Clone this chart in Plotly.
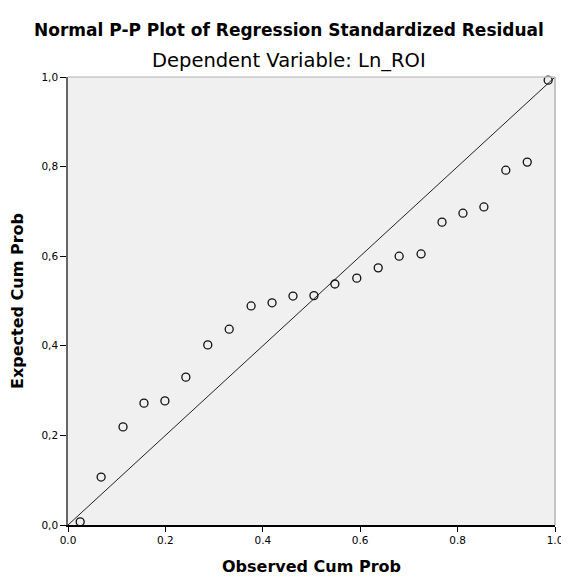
import plotly.graph_objects as go

observed = [0.025, 0.068, 0.113, 0.156, 0.199, 0.242, 0.287, 0.331, 0.376, 0.419,
            0.462, 0.505, 0.548, 0.593, 0.637, 0.680, 0.725, 0.768, 0.811, 0.854,
            0.899, 0.943, 0.986]
expected = [0.007, 0.107, 0.219, 0.272, 0.277, 0.330, 0.402, 0.437, 0.489, 0.496,
            0.511, 0.512, 0.538, 0.551, 0.574, 0.600, 0.605, 0.676, 0.696, 0.710,
            0.792, 0.810, 0.993]
ref_line = [0.0, 1.0]
tick_vals = [0.0, 0.2, 0.4, 0.6, 0.8, 1.0]
x_tick_text = ["0.0", "0.2", "0.4", "0.6", "0.8", "1.0"]
y_tick_text = ["0,0", "0,2", "0,4", "0,6", "0,8", "1,0"]

FONT = "DejaVu Sans, Liberation Sans, Arial, sans-serif"

fig = go.Figure()
fig.add_trace(go.Scatter(x=ref_line, y=ref_line, mode="lines",
                         line=dict(color="#222222", width=1), hoverinfo="skip",
                         showlegend=False))
fig.add_trace(go.Scatter(x=observed, y=expected, mode="markers",
                         marker=dict(symbol="circle-open", size=8,
                                     color="#111111", line=dict(width=1.3)),
                         showlegend=False, cliponaxis=False))

fig.update_layout(
    width=561, height=569,
    margin=dict(l=60, r=14, t=69, b=52, autoexpand=False),
    paper_bgcolor="white", plot_bgcolor="#f0f0f0",
    font=dict(family=FONT, color="black", size=10),
    xaxis=dict(range=[0, 1], tickvals=tick_vals, ticktext=x_tick_text,
               showgrid=False, zeroline=False, showline=True, linecolor="black",
               linewidth=1.5, ticks="outside", ticklen=5, tickcolor="black",
               tickfont=dict(size=10.5), fixedrange=True, automargin=False,
               title=dict(text="<b>Observed Cum Prob</b>", font=dict(size=16), standoff=15)),
    yaxis=dict(range=[0, 1], tickvals=tick_vals, ticktext=y_tick_text,
               showgrid=False, zeroline=False, showline=True, linecolor="#666666",
               linewidth=1.5, ticks="outside", ticklen=6, tickcolor="black",
               tickfont=dict(size=10.5), fixedrange=True, automargin=False,
               title=dict(text="<b>Expected Cum Prob</b>", font=dict(size=16), standoff=16)),
    shapes=[
        dict(type="line", xref="paper", yref="paper", x0=0, x1=1, y0=1, y1=1,
             line=dict(color="#c8c8c8", width=1.5)),
        dict(type="line", xref="paper", yref="paper", x0=1, x1=1, y0=0, y1=1,
             line=dict(color="#b4b4b4", width=1.5)),
    ],
    annotations=[
        dict(text="<b>Normal P-P Plot of Regression Standardized Residual</b>",
             xref="paper", yref="paper", x=0.454, y=1.0, yshift=47, showarrow=False,
             xanchor="center", yanchor="middle", font=dict(size=17)),
        dict(text="Dependent Variable: Ln_ROI",
             xref="paper", yref="paper", x=0.454, y=1.0, yshift=17, showarrow=False,
             xanchor="center", yanchor="middle", font=dict(size=19.5)),
    ],
)

fig.write_html("out.html")
